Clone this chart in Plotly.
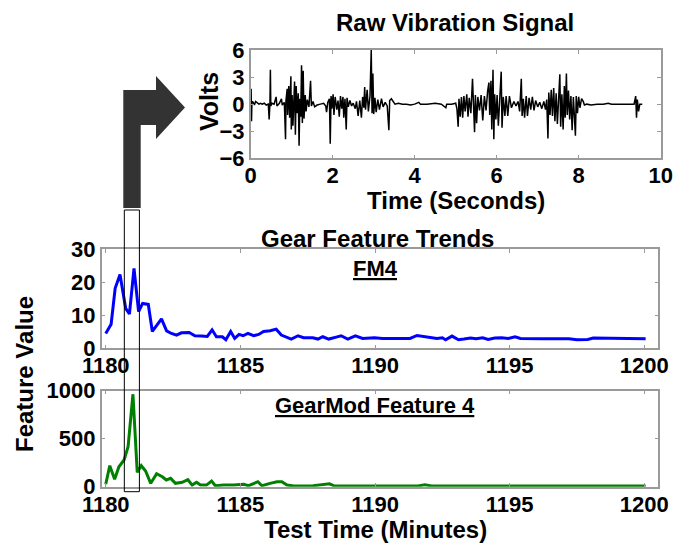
import plotly.graph_objects as go

# ---- raw vibration signal (seconds, volts) ----
raw_time = [
    0.00, 0.01, 0.02, 0.03, 0.06, 0.09, 0.12, 0.16, 0.20, 0.24, 0.28, 0.33, 0.38, 0.43,
    0.45, 0.47, 0.48, 0.49, 0.52, 0.57, 0.62, 0.64, 0.70, 0.75, 0.77, 0.82, 0.85, 0.86,
    0.89, 0.90, 0.93, 0.95, 0.98, 0.99, 1.01, 1.03, 1.05, 1.07, 1.09, 1.11, 1.13, 1.16,
    1.18, 1.20, 1.22, 1.24, 1.26, 1.28, 1.30, 1.33, 1.35, 1.38, 1.42, 1.46, 1.48, 1.52,
    1.56, 1.62, 1.70, 1.78, 1.83, 1.85, 1.88, 1.92, 1.94, 1.96, 1.98, 2.01, 2.03, 2.06,
    2.10, 2.13, 2.16, 2.19, 2.22, 2.25, 2.27, 2.30, 2.33, 2.35, 2.38, 2.42, 2.46, 2.50,
    2.55, 2.58, 2.62, 2.66, 2.70, 2.73, 2.76, 2.78, 2.80, 2.84, 2.87, 2.91, 2.94, 2.96,
    2.98, 3.00, 3.03, 3.06, 3.10, 3.14, 3.19, 3.23, 3.28, 3.33, 3.37, 3.39, 3.43, 3.47,
    3.52, 3.60, 3.70, 3.80, 3.90, 4.00, 4.10, 4.14, 4.30, 4.50, 4.65, 4.76, 4.78, 4.90,
    5.00, 5.03, 5.06, 5.08, 5.11, 5.14, 5.17, 5.20, 5.23, 5.27, 5.30, 5.33, 5.37, 5.41,
    5.43, 5.46, 5.48, 5.51, 5.54, 5.58, 5.62, 5.66, 5.70, 5.74, 5.78, 5.81, 5.83, 5.86,
    5.88, 5.91, 5.93, 5.95, 5.98, 6.01, 6.04, 6.07, 6.11, 6.13, 6.16, 6.20, 6.23, 6.27,
    6.31, 6.36, 6.42, 6.47, 6.52, 6.56, 6.60, 6.62, 6.65, 6.68, 6.72, 6.75, 6.79, 6.83,
    6.87, 6.91, 6.95, 7.00, 7.05, 7.10, 7.15, 7.19, 7.22, 7.25, 7.27, 7.30, 7.33, 7.36,
    7.39, 7.42, 7.45, 7.48, 7.51, 7.54, 7.56, 7.59, 7.62, 7.65, 7.67, 7.70, 7.72, 7.75,
    7.78, 7.81, 7.84, 7.87, 7.92, 7.94, 7.97, 8.00, 8.03, 8.07, 8.11, 8.14, 8.20, 8.30,
    8.45, 8.60, 8.72, 8.80, 9.00, 9.20, 9.35, 9.39, 9.41, 9.43, 9.46, 9.49, 9.55,
]
raw_volts = [
    0.0, 1.7, -1.9, 0.3, 0.2, -0.1, 0.3, 0.1, 0.0, 0.1, 0.0, 0.1, -0.1, 0.0,
    -1.7, 0.2, 3.8, -0.2, 0.1, 0.0, 0.8, -0.2, 0.1, 0.6, -0.1, 0.2, -3.9, 0.4,
    1.7, -1.2, 2.0, -1.5, 3.1, -2.8, 1.0, -2.4, 0.8, 2.5, -3.4, 2.0, -1.0, 1.2,
    -4.6, 0.6, -1.4, 4.3, -2.1, 3.7, -1.6, 1.0, -0.8, 0.5, -0.3, 2.6, -0.2, 0.3,
    -0.3, -0.1, 0.0, 0.1, -0.2, -0.9, 0.2, 0.6, -4.4, 0.9, -0.5, 1.1, -1.2, 0.8,
    -0.6, 0.4, -1.4, 0.9, -0.5, 0.8, -1.5, 0.6, -2.8, 0.7, -0.3, 0.4, -0.2, 0.1,
    -0.5, 0.3, -1.3, 0.4, -1.5, 0.8, -0.4, 1.9, -0.6, 1.6, -0.8, 0.9, 6.0, -1.0,
    3.4, -1.1, 0.7, -0.9, 0.5, -0.6, 0.6, -0.3, 0.2, -0.2, -2.9, 0.4, 0.6, 0.3,
    0.0, 0.1, 0.0, 0.0, -0.1, 0.0, 0.2, 0.0, 0.0, 0.1, 0.0, -0.4, 0.0, 0.0,
    0.1, -0.5, -2.5, 0.6, -1.4, 0.8, -1.5, 0.9, -0.8, 1.1, -1.4, 0.7, -1.0, 2.8,
    -0.6, -3.1, 1.0, -2.1, 0.8, -0.7, 1.0, -1.8, 0.9, -0.7, 1.5, 2.4, -1.2, 2.6,
    -2.8, 3.8, -3.9, 1.1, -1.7, 1.0, -2.4, 0.8, 3.6, -2.6, 0.8, -1.3, 0.9, -1.3,
    0.9, -0.4, 0.3, -0.2, 0.3, -0.8, 2.8, -1.3, 0.6, -1.5, 0.9, -1.3, 0.7, -0.6,
    0.8, -0.7, 0.4, -0.3, 0.2, -0.5, 0.3, -0.6, 0.5, -3.8, 1.3, -1.2, 1.6, -1.3,
    1.8, -1.9, 1.2, -2.2, 1.3, 3.3, -2.5, 1.1, -2.8, 2.0, -1.5, 3.4, -1.2, 1.5,
    -1.7, 0.9, -2.9, 0.8, -3.5, 0.9, -1.0, 0.8, -0.4, 0.6, 0.3, -0.1, 0.0, -0.1,
    0.0, 0.0, 0.1, 0.0, 0.0, 0.0, 0.0, 0.9, -1.5, 0.5, -0.8, 0.0, 0.0,
]

# ---- FM4 trend (test minutes, feature value) ----
fm4_minutes = [
    1180.00, 1180.20, 1180.35, 1180.53, 1180.74, 1180.88, 1181.05, 1181.22, 1181.37,
    1181.58, 1181.73, 1181.91, 1182.07, 1182.26, 1182.44, 1182.63, 1182.81, 1183.10,
    1183.31, 1183.56, 1183.77, 1183.95, 1184.11, 1184.33, 1184.46, 1184.64, 1184.79,
    1184.95, 1185.10, 1185.28, 1185.49, 1185.68, 1185.86, 1186.11, 1186.33, 1186.52,
    1186.70, 1186.89, 1187.14, 1187.35, 1187.69, 1187.88, 1188.06, 1188.28, 1188.56,
    1188.74, 1188.99, 1189.27, 1189.54, 1189.98, 1190.28, 1190.90, 1191.30, 1191.56,
    1191.85, 1192.30, 1192.50, 1192.62, 1192.86, 1193.10, 1193.30, 1193.55, 1193.75,
    1194.00, 1194.20, 1194.45, 1194.70, 1194.95, 1195.20, 1195.40, 1196.20, 1197.20,
    1197.50, 1197.90, 1198.10, 1198.80, 1198.95, 1200.05,
]
fm4_values = [
    4.5, 7.3, 18.2, 22.4, 12.1, 10.4, 24.2, 11.1, 13.6,
    13.3, 5.1, 7.1, 8.9, 5.3, 4.5, 4.0, 4.7, 4.8,
    3.8, 3.7, 3.6, 5.6, 3.5, 3.5, 2.6, 5.1, 3.0,
    4.2, 3.8, 4.5, 3.8, 4.2, 5.1, 5.3, 5.8, 4.0,
    3.5, 2.8, 3.8, 3.2, 3.2, 2.8, 3.5, 2.8, 3.4,
    3.8, 2.8, 3.8, 3.0, 3.2, 3.0, 3.0, 3.0, 3.9,
    3.5, 3.0, 3.2, 2.6, 3.7, 2.6, 2.8, 3.1, 2.9,
    3.2, 2.7, 3.1, 3.2, 3.0, 3.5, 3.0, 2.9, 2.9,
    2.6, 2.7, 3.1, 3.1, 2.9, 2.9,
]

# ---- GearMod feature 4 trend ----
gm4_minutes = [
    1180.00, 1180.15, 1180.33, 1180.49, 1180.68, 1180.83, 1181.01, 1181.17, 1181.32,
    1181.48, 1181.67, 1181.89, 1182.10, 1182.25, 1182.41, 1182.59, 1182.84, 1183.05,
    1183.21, 1183.37, 1183.52, 1183.74, 1183.93, 1184.07, 1184.38, 1184.75, 1185.12,
    1185.30, 1185.65, 1185.80, 1186.10, 1186.36, 1186.54, 1186.73, 1186.98, 1187.70,
    1188.31, 1188.50, 1190.90, 1191.60, 1191.85, 1192.10, 1200.05,
]
gm4_values = [
    25, 219, 77, 208, 278, 417, 963, 150, 219,
    164, 35, 136, 104, 70, 87, 35, 46, 73,
    17, 46, 17, 17, 59, 10, 17, 17, 25,
    10, 52, 10, 35, 52, 52, 17, 7, 10,
    30, 7, 7, 8, 20, 8, 8,
]

# window of test time marked on both trends
highlight_minutes = [1180.69, 1181.25]

W, H = 686, 546
FONT = "Liberation Sans, Arial, Helvetica, sans-serif"
BOX = "#9a9a9a"


def px(x):
    return x / W


def py(y):
    return 1 - y / H


fig = go.Figure()
fig.add_trace(go.Scatter(x=raw_time, y=raw_volts, mode="lines",
                         line=dict(color="black", width=1.5),
                         xaxis="x", yaxis="y", showlegend=False))
fig.add_trace(go.Scatter(x=fm4_minutes, y=fm4_values, mode="lines",
                         line=dict(color="#0000ff", width=3),
                         xaxis="x2", yaxis="y2", showlegend=False))
fig.add_trace(go.Scatter(x=gm4_minutes, y=gm4_values, mode="lines",
                         line=dict(color="#008000", width=3),
                         xaxis="x3", yaxis="y3", showlegend=False))

tickfont = dict(family=FONT, size=22, color="black", weight="bold")
common = dict(showline=True, linecolor=BOX, linewidth=1.5, mirror="ticks",
              ticks="inside", ticklen=4, tickcolor=BOX, tickwidth=1,
              showgrid=False, zeroline=False, tickfont=tickfont,
              automargin=False)
xcommon = dict(common, ticklabelstandoff=-3)

minute_ticks = [1180, 1185, 1190, 1195, 1200]
minute_range = [1179.85, 1200.52]

fig.update_layout(
    width=W, height=H,
    margin=dict(l=0, r=0, t=0, b=0),
    paper_bgcolor="white", plot_bgcolor="white",
    xaxis=dict(domain=[px(250.7), px(660.7)], anchor="y", range=[0, 10],
               tickvals=[0, 2, 4, 6, 8, 10], **xcommon),
    yaxis=dict(domain=[py(158.3), py(50)], anchor="x", range=[-6, 6],
               tickvals=[-6, -3, 0, 3, 6], **common),
    xaxis2=dict(domain=[px(101.7), px(658.3)], anchor="y2", range=minute_range,
                tickvals=minute_ticks, **xcommon),
    yaxis2=dict(domain=[py(348.3), py(249.3)], anchor="x2", range=[0, 30],
                tickvals=[0, 10, 20, 30], **common),
    xaxis3=dict(domain=[px(101.7), px(658.3)], anchor="y3", range=minute_range,
                tickvals=minute_ticks, **xcommon),
    yaxis3=dict(domain=[py(486.7), py(390.7)], anchor="x3", range=[0, 1000],
                tickvals=[0, 500, 1000], **common),
)


def label(text, x, y, size=24, angle=0, under=False):
    fig.add_annotation(text=text, x=px(x), y=py(y), xref="paper", yref="paper",
                       xanchor="center", yanchor="middle", showarrow=False,
                       textangle=angle,
                       font=dict(family=FONT, size=size, color="black", weight="bold",
                                 lineposition="under" if under else "none"))


label("Raw Vibration Signal", 455, 23)
label("Time (Seconds)", 456, 200)
label("Volts", 209, 102, size=25, angle=-90)
label("Gear Feature Trends", 377, 238)
label("FM4", 375, 268, size=22, under=True)
label("GearMod Feature 4", 375, 405, size=22, under=True)
label("Feature Value", 24, 374, angle=-90)
label("Test Time (Minutes)", 376, 529)

# bent arrow pointing from the marked window up to the raw signal
arrow_pts = [(123.3, 208), (140.7, 208), (140.7, 125), (156, 125), (156, 139),
             (185, 107.5), (156, 76), (156, 90), (123.3, 90)]
path = "M " + " L ".join(f"{px(x):.5f},{py(y):.5f}" for x, y in arrow_pts) + " Z"
fig.add_shape(type="path", path=path, xref="paper", yref="paper",
              fillcolor="#333333", line=dict(width=0), layer="above")

# outline of the marked window spanning both trend panels
fig.add_shape(type="rect", xref="x2", yref="paper",
              x0=highlight_minutes[0], x1=highlight_minutes[1],
              y0=py(491.7), y1=py(210),
              line=dict(color="black", width=1), fillcolor="rgba(0,0,0,0)",
              layer="above")

fig.write_html("out.html")
